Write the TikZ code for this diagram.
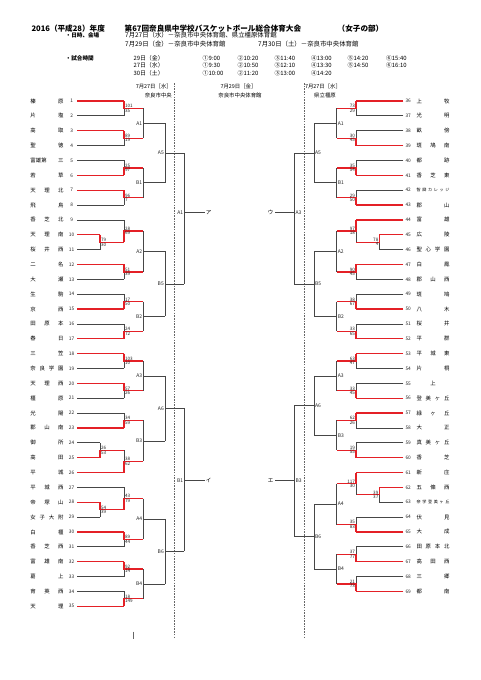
\documentclass[tikz,border=0pt]{standalone}
\usepackage{fontspec}
\setmainfont{Noto Sans CJK JP}
\definecolor{wred}{RGB}{228,32,38}
\definecolor{lgray}{RGB}{70,70,70}
\tikzset{
  lose/.style={draw=lgray, line width=0.75pt},
  win/.style={draw=wred, line width=1.3pt},
  sc/.style={font=\fontsize{4.6}{5}\selectfont, inner sep=0.3pt, text=black!85},
  nm/.style={font=\fontsize{5.4}{6}\selectfont, inner sep=0},
  smn/.style={font=\fontsize{4.1}{5}\selectfont, inner sep=0},
  num/.style={font=\fontsize{4.8}{5}\selectfont, inner sep=0, text=black!85},
  lab/.style={font=\fontsize{5}{6}\selectfont, inner sep=0.4pt, text=black!85},
  kana/.style={font=\fontsize{5.5}{6}\selectfont, inner sep=1pt},
  ttl/.style={font=\fontsize{7.6}{8}\selectfont\bfseries, inner sep=0, anchor=west},
  info/.style={font=\fontsize{6.4}{7}\selectfont, inner sep=0, anchor=west},
  tm/.style={font=\fontsize{5.9}{7}\selectfont, inner sep=0, anchor=west},
  ch/.style={font=\fontsize{5.4}{6}\selectfont, inner sep=0},
  dashline/.style={draw=black!60, line width=0.5pt, dash pattern=on 1.6pt off 1.1pt},
}
% match: id, side, xv, y1, y2, xout, winner, s1, s2
\newcommand\M[9]{%
  \edef\ya{\fpeval{#4}}\edef\yb{\fpeval{#5}}%
  \edef\ymid{\fpeval{(\ya+\yb)/2}}%
  \expandafter\xdef\csname Y#1\endcsname{\ymid}%
  \coordinate (#1t) at (#3,\ya);
  \coordinate (#1m) at (#3,\ymid);
  \coordinate (#1b) at (#3,\yb);
  \coordinate (#1o) at (#6,\ymid);
  \ifcase#7
    \draw[lose] (#1t) -- (#1b); \draw[lose] (#1m) -- (#1o);
  \or
    \draw[lose] (#1m) -- (#1b); \draw[win] (#1t) -- (#1m) -- (#1o);
  \or
    \draw[lose] (#1m) -- (#1t); \draw[win] (#1b) -- (#1m) -- (#1o);
  \fi
  \ifnum#7>0
  \if#2L
    \node[sc,anchor=south west] (#1s1) at ([xshift=0.5pt]#1m) {#8};
    \node[sc,anchor=north west] (#1s2) at ([xshift=0.5pt]#1m) {#9};
  \else
    \node[sc,anchor=south east] (#1s1) at ([xshift=-0.5pt]#1m) {#8};
    \node[sc,anchor=north east] (#1s2) at ([xshift=-0.5pt]#1m) {#9};
  \fi
  \fi
}
\newcommand\Y[1]{\csname Y#1\endcsname}
\newcommand\TL[1]{(101+(#1-1)*14.86)}
\newcommand\TR[1]{(101+(#1-36)*14.86)}
% left team: n, xend, style, name
\newcommand\LT[4]{%
  \edef\yy{\fpeval{101+(#1-1)*14.86}}%
  \coordinate (L#1a) at (77,\yy);
  \coordinate (L#1b) at (#2,\yy);
  \node[nm] (L#1n) at (47,\yy) {\makebox[33pt][s]{#4}};
  \node[num] (L#1k) at (71.6,\yy) {#1};
  \draw[#3] (L#1a) -- (L#1b);
}
\newcommand\RT[4]{%
  \edef\yy{\fpeval{101+(#1-36)*14.86}}%
  \coordinate (R#1a) at (403.3,\yy);
  \coordinate (R#1b) at (#2,\yy);
  \node[nm] (R#1n) at (433,\yy) {\makebox[33pt][s]{#4}};
  \node[num,anchor=west] (R#1k) at (405.3,\yy) {#1};
  \draw[#3] (R#1a) -- (R#1b);
}
\newcommand\LL[2]{\node[lab,anchor=east] (#1x) at ([xshift=-0.6pt]#1m) {#2};}
\newcommand\RL[2]{\node[lab,anchor=west] (#1x) at ([xshift=0.6pt]#1m) {#2};}
% final-ish: id, xv, y1, y2, yout
\newcommand\F[5]{%
  \edef\ya{\fpeval{#3}}\edef\yb{\fpeval{#4}}%
  \coordinate (#1t) at (#2,\ya);
  \coordinate (#1b) at (#2,\yb);
  \coordinate (#1m) at (#2,#5);
  \draw[lose] (#1t) -- (#1b);
}
\begin{document}
\begin{tikzpicture}[x=1pt,y=-1pt]
\fill[white] (0,0) rectangle (481,680);
\useasboundingbox (0,0) rectangle (481,680);

% ---------- header ----------
\node[ttl] (h1) at (31.3,28.3) {2016（平成28）年度};
\node[ttl] (h2) at (124.5,28.3) {第67回奈良県中学校バスケットボール総合体育大会};
\node[ttl] (h3) at (337.5,28.3) {（女子の部）};
\node[info] (h4) at (65.5,35.3) {\fontsize{5.6}{6}\selectfont\bfseries ・日時、会場};
\node[info] (h5) at (125,35.3) {7月27日（水）－奈良市中央体育館、県立橿原体育館};
\node[info] (h6) at (125,44) {7月29日（金）－奈良市中央体育館};
\node[info] (h7) at (258,44) {7月30日（土）－奈良市中央体育館};
\node[info] (h8) at (65.5,58.3) {\fontsize{5.6}{6}\selectfont\bfseries ・試合時間};
\node[tm] (d1) at (133.3,58.3) {29日（金）};
\node[tm] (d2) at (133.3,65.7) {27日（水）};
\node[tm] (d3) at (133.3,72.9) {30日（土）};
\foreach \t/\xx [count=\i] in {①9:00/202.5,②10:20/237.5,③11:40/274.3,④13:00/310.8,⑤14:20/347.5,⑥15:40/385.8}
  \node[tm] (ta\i) at (\xx,58.3) {\t};
\foreach \t/\xx [count=\i] in {①9:30/202.5,②10:50/237.5,③12:10/274.3,④13:30/310.8,⑤14:50/347.5,⑥16:10/385.8}
  \node[tm] (tb\i) at (\xx,65.7) {\t};
\foreach \t/\xx [count=\i] in {①10:00/202.5,②11:20/237.5,③13:00/274.3,④14:20/310.8}
  \node[tm] (tc\i) at (\xx,72.9) {\t};

% column headers
\node[ch,anchor=east] (c1) at (172,86) {7月27日［水］};
\node[ch,anchor=east] (c2) at (172,95) {奈良市中央};
\node[ch] (c3) at (238.5,86) {7月29日［金］};
\node[ch] (c4) at (240,95) {奈良市中央体育館};
\node[ch,anchor=west] (c5) at (304.8,86) {7月27日［水］};
\node[ch] (c6) at (325,95) {県立橿原};

% dashed separators and tick
\coordinate (dl1) at (174.5,83); \coordinate (dl2) at (174.5,639);
\coordinate (dr1) at (304.5,83); \coordinate (dr2) at (304.5,639);
\draw[dashline] (dl1) -- (dl2);
\draw[dashline] (dr1) -- (dr2);
\coordinate (tk1) at (133.3,631.5); \coordinate (tk2) at (133.3,639);
\draw[draw=black!60, line width=0.5pt] (tk1) -- (tk2);

% ---------- left teams ----------
\LT{1}{124}{win}{榛\hfil 原}
\LT{2}{124}{lose}{片\hfil 塩}
\LT{3}{124}{win}{高\hfil 取}
\LT{4}{124}{lose}{聖\hfil 徳}
\LT{5}{124}{lose}{富雄第\hfil 三}
\LT{6}{124}{win}{若\hfil 草}
\LT{7}{124}{win}{天\hfil 理\hfil 北}
\LT{8}{124}{lose}{飛\hfil 鳥}
\LT{9}{124}{lose}{香\hfil 芝\hfil 北}
\LT{10}{100}{win}{天\hfil 理\hfil 南}
\LT{11}{100}{lose}{桜\hfil 井\hfil 西}
\LT{12}{124}{win}{二\hfil 名}
\LT{13}{124}{lose}{大\hfil 瀬}
\LT{14}{124}{lose}{生\hfil 駒}
\LT{15}{124}{win}{京\hfil 西}
\LT{16}{124}{lose}{田\hfil 原\hfil 本}
\LT{17}{124}{win}{春\hfil 日}
\LT{18}{124}{win}{三\hfil 笠}
\LT{19}{124}{lose}{奈\hfil 良\hfil 学\hfil 園}
\LT{20}{124}{win}{天\hfil 理\hfil 西}
\LT{21}{124}{lose}{橿\hfil 原}
\LT{22}{124}{lose}{光\hfil 陽}
\LT{23}{124}{win}{郡\hfil 山\hfil 南}
\LT{24}{100}{lose}{御\hfil 所}
\LT{25}{100}{win}{高\hfil 田}
\LT{26}{124}{win}{平\hfil 城}
\LT{27}{124}{lose}{平\hfil 城\hfil 西}
\LT{28}{100}{win}{帝\hfil 塚\hfil 山}
\LT{29}{100}{lose}{女\hfil 子\hfil 大\hfil 附}
\LT{30}{124}{win}{白\hfil 橿}
\LT{31}{124}{lose}{香\hfil 芝\hfil 西}
\LT{32}{124}{win}{富\hfil 雄\hfil 南}
\LT{33}{124}{lose}{葛\hfil 上}
\LT{34}{124}{lose}{育\hfil 英\hfil 西}
\LT{35}{124}{win}{天\hfil 理}

% ---------- left matches ----------
\M{la}{L}{124}{\TL{1}}{\TL{2}}{143.3}{1}{101}{35}
\M{lb}{L}{124}{\TL{3}}{\TL{4}}{143.3}{1}{89}{19}
\M{lAa}{L}{143.3}{\Y{la}}{\Y{lb}}{165}{0}{}{}
\M{lc}{L}{124}{\TL{5}}{\TL{6}}{143.3}{2}{25}{97}
\M{ld}{L}{124}{\TL{7}}{\TL{8}}{143.3}{1}{96}{7}
\M{lBa}{L}{143.3}{\Y{lc}}{\Y{ld}}{165}{0}{}{}
\M{lAe}{L}{165}{\Y{lAa}}{\Y{lBa}}{184.3}{0}{}{}
\M{lpa}{L}{100}{\TL{10}}{\TL{11}}{124}{1}{79}{30}
\M{le}{L}{124}{\TL{9}}{\Y{lpa}}{143.3}{2}{28}{69}
\M{lf}{L}{124}{\TL{12}}{\TL{13}}{143.3}{1}{51}{39}
\M{lAb}{L}{143.3}{\Y{le}}{\Y{lf}}{165}{0}{}{}
\M{lg}{L}{124}{\TL{14}}{\TL{15}}{143.3}{2}{17}{50}
\M{lh}{L}{124}{\TL{16}}{\TL{17}}{143.3}{2}{24}{72}
\M{lBb}{L}{143.3}{\Y{lg}}{\Y{lh}}{165}{0}{}{}
\M{lBe}{L}{165}{\Y{lAb}}{\Y{lBb}}{184.3}{0}{}{}
\M{li}{L}{124}{\TL{18}}{\TL{19}}{143.3}{1}{103}{10}
\M{lj}{L}{124}{\TL{20}}{\TL{21}}{143.3}{1}{57}{26}
\M{lAc}{L}{143.3}{\Y{li}}{\Y{lj}}{165}{0}{}{}
\M{lk}{L}{124}{\TL{22}}{\TL{23}}{143.3}{2}{34}{59}
\M{lpb}{L}{100}{\TL{24}}{\TL{25}}{124}{2}{26}{53}
\M{ll}{L}{124}{\Y{lpb}}{\TL{26}}{143.3}{2}{38}{62}
\M{lBc}{L}{143.3}{\Y{lk}}{\Y{ll}}{165}{0}{}{}
\M{lAf}{L}{165}{\Y{lAc}}{\Y{lBc}}{184.3}{0}{}{}
\M{lpc}{L}{100}{\TL{28}}{\TL{29}}{124}{1}{54}{39}
\M{lm}{L}{124}{\TL{27}}{\Y{lpc}}{143.3}{2}{43}{79}
\M{ln}{L}{124}{\TL{30}}{\TL{31}}{143.3}{1}{89}{44}
\M{lAd}{L}{143.3}{\Y{lm}}{\Y{ln}}{165}{0}{}{}
\M{lo}{L}{124}{\TL{32}}{\TL{33}}{143.3}{1}{92}{14}
\M{lq}{L}{124}{\TL{34}}{\TL{35}}{143.3}{2}{18}{149}
\M{lBd}{L}{143.3}{\Y{lo}}{\Y{lq}}{165}{0}{}{}
\M{lBf}{L}{165}{\Y{lAd}}{\Y{lBd}}{184.3}{0}{}{}

\LL{lAa}{A1}\LL{lBa}{B1}\LL{lAb}{A2}\LL{lBb}{B2}
\LL{lAc}{A3}\LL{lBc}{B3}\LL{lAd}{A4}\LL{lBd}{B4}
\LL{lAe}{A5}\LL{lBe}{B5}\LL{lAf}{A6}\LL{lBf}{B6}

\F{lFa}{184.3}{\Y{lAe}}{\Y{lBe}}{212.7}
\F{lFb}{184.3}{\Y{lAf}}{\Y{lBf}}{480.7}
\node[kana] (ka) at (208.5,212.7) {ア};
\node[kana] (ki) at (208.5,480.7) {イ};
\draw[lose] (lFam) -- (ka.west);
\draw[lose] (lFbm) -- (ki.west);
\LL{lFa}{A1}\LL{lFb}{B1}

% ---------- right teams ----------
\RT{36}{356}{win}{上\hfil 牧}
\RT{37}{356}{lose}{光\hfil 明}
\RT{38}{356}{lose}{畝\hfil 傍}
\RT{39}{356}{win}{斑\hfil 鳩\hfil 南}
\RT{40}{356}{lose}{都\hfil 跡}
\RT{41}{356}{win}{香\hfil 芝\hfil 東}
\RT{42}{356}{lose}{\fontsize{4.1}{5}\selectfont 智\hfil 辯\hfil カ\hfil レ\hfil ッ\hfil ジ}
\RT{43}{356}{win}{郡\hfil 山}
\RT{44}{356}{win}{富\hfil 雄}
\RT{45}{379.3}{win}{広\hfil 陵}
\RT{46}{379.3}{lose}{聖\hfil 心\hfil 学\hfil 園}
\RT{47}{356}{win}{白\hfil 鳳}
\RT{48}{356}{lose}{郡\hfil 山\hfil 西}
\RT{49}{356}{lose}{斑\hfil 鳩}
\RT{50}{356}{win}{八\hfil 木}
\RT{51}{356}{lose}{桜\hfil 井}
\RT{52}{356}{win}{平\hfil 群}
\RT{53}{356}{win}{平\hfil 城\hfil 東}
\RT{54}{356}{lose}{片\hfil 桐}
\RT{55}{356}{lose}{\hfil 上\hfil}
\RT{56}{356}{win}{登\hfil 美\hfil ヶ\hfil 丘}
\RT{57}{356}{win}{緑\hfil ヶ\hfil 丘}
\RT{58}{356}{lose}{大\hfil 正}
\RT{59}{356}{lose}{真\hfil 美\hfil ヶ\hfil 丘}
\RT{60}{356}{win}{香\hfil 芝}
\RT{61}{356}{win}{新\hfil 庄}
\RT{62}{379.3}{win}{五\hfil 條\hfil 西}
\RT{63}{379.3}{lose}{\fontsize{4.1}{5}\selectfont 奈\hfil 学\hfil 登\hfil 美\hfil ヶ\hfil 丘}
\RT{64}{356}{lose}{伏\hfil 見}
\RT{65}{356}{win}{大\hfil 成}
\RT{66}{356}{lose}{田\hfil 原\hfil 本\hfil 北}
\RT{67}{356}{win}{高\hfil 田\hfil 西}
\RT{68}{356}{lose}{三\hfil 郷}
\RT{69}{356}{win}{都\hfil 南}

% ---------- right matches ----------
\M{ra}{R}{356}{\TR{36}}{\TR{37}}{336.7}{1}{73}{29}
\M{rb}{R}{356}{\TR{38}}{\TR{39}}{336.7}{2}{30}{45}
\M{rAa}{R}{336.7}{\Y{ra}}{\Y{rb}}{314}{0}{}{}
\M{rc}{R}{356}{\TR{40}}{\TR{41}}{336.7}{2}{35}{54}
\M{rd}{R}{356}{\TR{42}}{\TR{43}}{336.7}{2}{29}{50}
\M{rBa}{R}{336.7}{\Y{rc}}{\Y{rd}}{314}{0}{}{}
\M{rAe}{R}{314}{\Y{rAa}}{\Y{rBa}}{294.3}{0}{}{}
\M{rpa}{R}{379.3}{\TR{45}}{\TR{46}}{356}{1}{78}{4}
\M{re}{R}{356}{\TR{44}}{\Y{rpa}}{336.7}{1}{97}{18}
\M{rf}{R}{356}{\TR{47}}{\TR{48}}{336.7}{1}{90}{45}
\M{rAb}{R}{336.7}{\Y{re}}{\Y{rf}}{314}{0}{}{}
\M{rg}{R}{356}{\TR{49}}{\TR{50}}{336.7}{2}{38}{67}
\M{rh}{R}{356}{\TR{51}}{\TR{52}}{336.7}{2}{33}{65}
\M{rBb}{R}{336.7}{\Y{rg}}{\Y{rh}}{314}{0}{}{}
\M{rBe}{R}{314}{\Y{rAb}}{\Y{rBb}}{294.3}{0}{}{}
\M{ri}{R}{356}{\TR{53}}{\TR{54}}{336.7}{1}{63}{47}
\M{rj}{R}{356}{\TR{55}}{\TR{56}}{336.7}{2}{33}{45}
\M{rAc}{R}{336.7}{\Y{ri}}{\Y{rj}}{314}{0}{}{}
\M{rk}{R}{356}{\TR{57}}{\TR{58}}{336.7}{1}{62}{26}
\M{rl}{R}{356}{\TR{59}}{\TR{60}}{336.7}{2}{19}{55}
\M{rBc}{R}{336.7}{\Y{rk}}{\Y{rl}}{314}{0}{}{}
\M{rAf}{R}{314}{\Y{rAc}}{\Y{rBc}}{294.3}{0}{}{}
\M{rpb}{R}{379.3}{\TR{62}}{\TR{63}}{356}{1}{39}{37}
\M{rm}{R}{356}{\TR{61}}{\Y{rpb}}{336.7}{1}{117}{30}
\M{rn}{R}{356}{\TR{64}}{\TR{65}}{336.7}{2}{35}{83}
\M{rAd}{R}{336.7}{\Y{rm}}{\Y{rn}}{314}{0}{}{}
\M{ro}{R}{356}{\TR{66}}{\TR{67}}{336.7}{2}{37}{77}
\M{rq}{R}{356}{\TR{68}}{\TR{69}}{336.7}{2}{21}{73}
\M{rBd}{R}{336.7}{\Y{ro}}{\Y{rq}}{314}{0}{}{}
\M{rBf}{R}{314}{\Y{rAd}}{\Y{rBd}}{294.3}{0}{}{}

\RL{rAa}{A1}\RL{rBa}{B1}\RL{rAb}{A2}\RL{rBb}{B2}
\RL{rAc}{A3}\RL{rBc}{B3}\RL{rAd}{A4}\RL{rBd}{B4}
\RL{rAe}{A5}\RL{rBe}{B5}\RL{rAf}{A6}\RL{rBf}{B6}

\F{rFa}{294.3}{\Y{rAe}}{\Y{rBe}}{212.7}
\F{rFb}{294.3}{\Y{rAf}}{\Y{rBf}}{480.7}
\node[kana] (ku) at (270.7,212.7) {ウ};
\node[kana] (ke) at (270.7,480.7) {エ};
\draw[lose] (rFam) -- (ku.east);
\draw[lose] (rFbm) -- (ke.east);
\RL{rFa}{A3}\RL{rFb}{B3}
\end{tikzpicture}
\end{document}
